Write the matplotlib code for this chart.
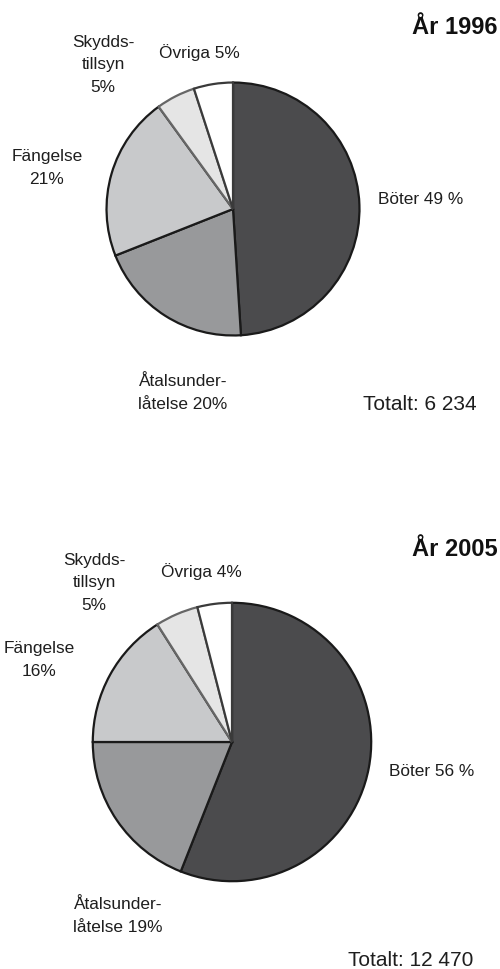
import matplotlib.pyplot as plt

plt.rcParams['font.family'] = ['Liberation Sans', 'DejaVu Sans']

# Data
categories = ['Böter', 'Åtalsunderlåtelse', 'Fängelse', 'Skyddstillsyn', 'Övriga']
share_1996 = [49, 20, 21, 5, 5]
share_2005 = [56, 19, 16, 5, 4]
total_1996 = '6 234'
total_2005 = '12 470'

fills = ['#4b4b4d', '#98999b', '#c8c9cb', '#e5e5e5', '#ffffff']
edges = ['#1a1a1a', '#1a1a1a', '#1a1a1a', '#666666', '#3a3a3a']

W, H = 500, 969
fig = plt.figure(figsize=(W / 100, H / 100), dpi=100)


def px(x, y):
    return x / W, 1 - y / H


def draw_pie(values, cx, cy, r):
    ax = fig.add_axes([(cx - r) / W, 1 - (cy + r) / H, 2 * r / W, 2 * r / H])
    wedges, _ = ax.pie(values, colors=fills, startangle=90, counterclock=False,
                       wedgeprops=dict(linewidth=1.6))
    for w, ec in zip(wedges, edges):
        w.set_edgecolor(ec)
    ax.set_xlim(-1.02, 1.02)
    ax.set_ylim(-1.02, 1.02)
    ax.set_aspect('equal')
    ax.axis('off')


def label(x, y, s, ha='center', size=12.4):
    fig.text(*px(x, y), s, ha=ha, va='center', fontsize=size, color='#1e1e1e',
             linespacing=1.65, multialignment='center')


# 1996
draw_pie(share_1996, 233, 209, 129)
fig.text(*px(498, 27), 'År 1996', ha='right', va='center', fontsize=17, fontweight='bold', color='#111111')
label(103, 65, 'Skydds-\ntillsyn\n%d%%' % share_1996[3])
label(199, 53, 'Övriga %d%%' % share_1996[4])
label(47, 168, 'Fängelse\n%d%%' % share_1996[2])
label(378, 199, 'Böter %d %%' % share_1996[0], ha='left')
label(183, 393, 'Åtalsunder-\nlåtelse %d%%' % share_1996[1])
label(363, 405, 'Totalt: ' + total_1996, ha='left', size=15)

# 2005
draw_pie(share_2005, 232, 742, 142)
fig.text(*px(498, 549), 'År 2005', ha='right', va='center', fontsize=17, fontweight='bold', color='#111111')
label(94, 583, 'Skydds-\ntillsyn\n%d%%' % share_2005[3])
label(201, 572, 'Övriga %d%%' % share_2005[4])
label(39, 660, 'Fängelse\n%d%%' % share_2005[2])
label(389, 771, 'Böter %d %%' % share_2005[0], ha='left')
label(118, 916, 'Åtalsunder-\nlåtelse %d%%' % share_2005[1])
label(348, 960, 'Totalt: ' + total_2005, ha='left', size=15)

fig.savefig('out.png', dpi=100)
